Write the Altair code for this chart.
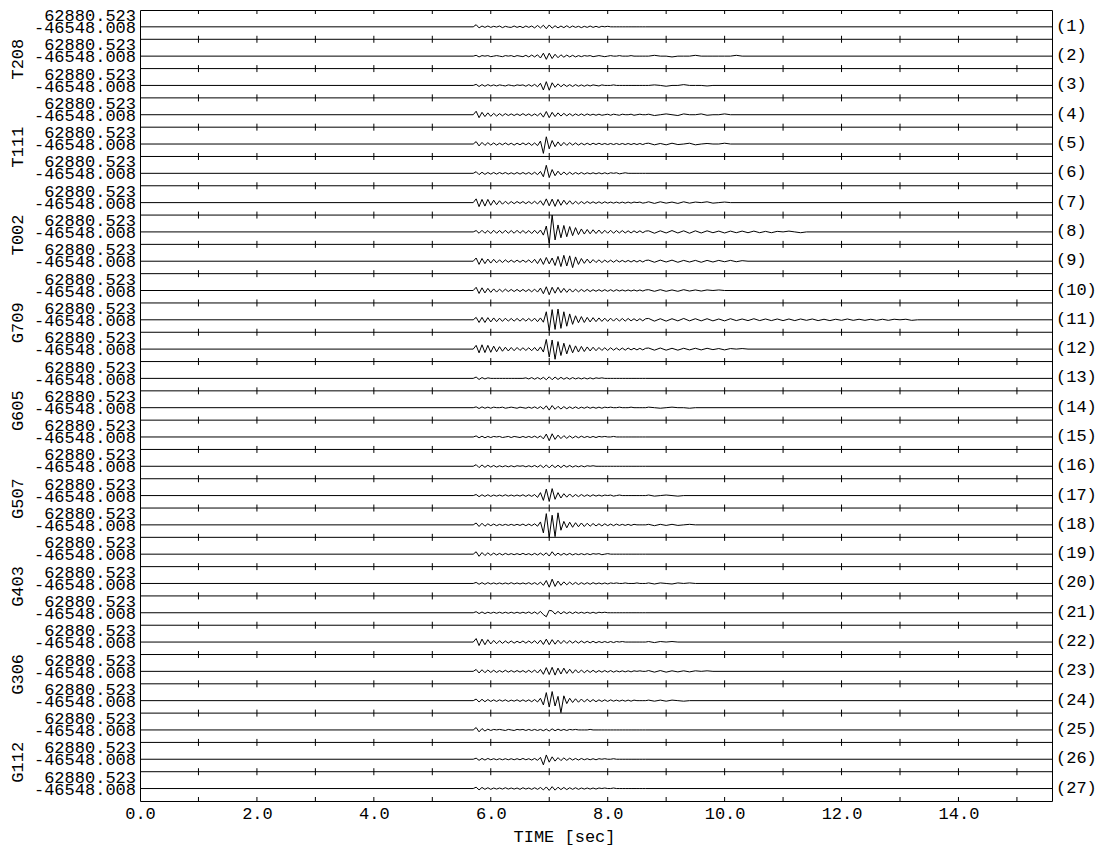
import altair as alt
import pandas as pd

# ---------------------------------------------------------------------------
# Record layout
# ---------------------------------------------------------------------------
AMP_MAX = 62880.523      # common amplitude range shown for every trace (counts)
AMP_MIN = -46548.008
T_END = 15.6             # length of the record window (s)

T0, DT = 5.70, 0.05      # first sample time / sample interval of the main window
CODA_T0, CODA_DT = 8.70, 0.10

STATIONS = {2: "T208", 5: "T111", 8: "T002", 11: "G709", 14: "G605",
            17: "G507", 20: "G403", 23: "G306", 26: "G112"}

TICK_SECONDS = list(range(1, 16))
LABEL_SECONDS = [0, 2, 4, 6, 8, 10, 12, 14]

# ---------------------------------------------------------------------------
# Waveforms, in thousands of counts, one list per trace (top to bottom)
# ---------------------------------------------------------------------------
T1 = [0, 8, -4, 3, -2, 3, -2, 2, -1, 3, -3, 2, -1, -2, 3, -2, 2, -3, 3, -2, 3, -4, 5, -4, 6, -7, 7, -5, 4, -4,
      3, -3, 4, -3, 3, -2, 2, -3, 2, -2, 3, -2, 2, -2, 2, 0, 2, 0, 0, 0, 0, 0, 0, 0, 0, 0, 0, 0, 0, 0]
T2 = [0, 3, -3, 2, 0, 2, -2, 0, 2, 0, -2, 2, 0, 2, -2, 2, 0, -2, 3, -3, 4, -3, 5, -7, 11, -12, 11, -9, 7, -6,
      5, -4, 4, -3, 3, -3, 2, -2, 2, 0, 2, -2, 0, 2, 0, -2, 0, 2, 0, 0, 2, 0, 0, 0, 2, 0, 0, 0, 0, 0]
T3 = [0, 4, -4, 3, -3, 3, -2, 2, -2, 2, 0, -2, 2, 0, -2, 2, 0, 2, -3, 3, -3, 4, -5, 8, -17, 14, -18, 10, -7, 6,
      -5, 4, -4, 3, -4, 3, -3, 2, -3, 2, -2, 2, 0, -2, 2, 0, 0, 0, 2, 0, 0, 0, 0, 0, 0, 0, 0, 0, 0, 0]
T4 = [0, 13, -11, 9, -7, 7, -6, 5, -5, 4, -4, 4, -3, 3, -3, 3, -3, 4, -3, 3, -4, 3, -4, 6, -9, 12, -11, 9, -7, 7,
      -5, 5, -4, 4, -4, 3, -3, 3, -3, 3, -2, 2, -2, 2, -2, 0, 2, -2, 2, 0, -2, 2, 0, 0, 2, -2, 0, 2, 0, 0]
T5 = [0, 9, -7, 6, -5, 5, -4, 4, -4, 3, -3, 4, -3, 3, -4, 3, -3, 4, -3, 4, -5, 4, -6, 11, -35, 27, -18, 13, -10, 8,
      -7, 6, -5, 5, -4, 4, -4, 3, -3, 3, -3, 3, -2, 3, -2, 2, -2, 2, -2, 2, -2, 2, -2, 2, -2, 2, -2, 2, -2, 2]
T6 = [0, 6, -5, 4, -4, 3, -3, 3, -3, 3, -2, 3, -3, 2, -3, 3, -3, 3, -3, 3, -4, 4, -5, 7, -13, 30, -16, 14, -9, 8,
      -6, 5, -5, 4, -4, 3, -3, 3, -3, 2, -2, 2, -2, 2, -2, 2, -2, 2, 0, 2, -2, 0, 2, 0, 0, 0, 0, 0, 0, 0]
T7 = [0, 14, -15, 12, -13, 12, -10, 9, -8, 7, -6, 5, -5, 4, -4, 4, -3, 4, -4, 4, -4, 5, -5, 7, -10, 14, -12, 13, -14, 12,
      -10, 9, -7, 7, -6, 5, -5, 4, -4, 4, -3, 3, -3, 3, -3, 3, -2, 2, -2, 2, -2, 2, -2, 2, -2, 2, 0, 2, -2, 0]
T8 = [0, 5, -5, 6, -5, 5, -6, 6, -5, 5, -5, 6, -5, 5, -5, 6, -5, 5, -5, 5, -6, 6, -6, 7, -12, 22, -42, 62.880523, -30, 26,
      -22, 24, -18, 20, -14, 16, -10, 11, -8, 9, -7, 8, -6, 7, -6, 6, -5, 6, -5, 5, -4, 5, -4, 4, -4, 4, -3, 4, -3, 3]
T9 = [0, 12, -12, 10, -9, 8, -7, 7, -6, 5, -5, 5, -4, 4, -4, 4, -4, 4, -4, 5, -6, 7, -9, 10, -12, 14, -10, 12, -16, 18,
      -20, 22, -18, 20, -24, 16, -12, 10, -8, 8, -7, 6, -5, 5, -5, 4, -4, 4, -4, 4, -3, 3, -3, 3, -3, 3, -3, 3, -3, 3]
T10 = [0, 12, -11, 10, -9, 8, -7, 6, -6, 5, -5, 5, -4, 4, -4, 4, -4, 4, -4, 4, -5, 5, -6, 9, -12, 14, -16, 12, -10, 12,
       -8, 8, -7, 6, -6, 5, -5, 4, -4, 4, -4, 3, -3, 3, -3, 3, -3, 3, -3, 3, -2, 2, -2, 2, -2, 2, -2, 2, -2, 2]
T11 = [0, 9, -10, 9, -10, 8, -8, 7, -7, 6, -6, 6, -5, 5, -5, 5, -5, 5, -5, 5, -5, 6, -7, 7, -9, 30, -40, 38, -36, 40,
       -32, 30, -24, 22, -17, 15, -11, 12, -10, 9, -8, 8, -7, 7, -6, 6, -6, 6, -5, 6, -5, 5, -5, 5, -4, 4, -4, 4, -4, 4]
T12 = [0, 14, -14, 16, -13, 14, -12, 11, -10, 9, -8, 7, -7, 6, -6, 6, -5, 5, -5, 5, -6, 6, -7, 8, -11, 36, -30, 34, -38, 28,
       -24, 22, -18, 16, -14, 12, -11, 10, -9, 8, -7, 7, -6, 6, -5, 5, -5, 5, -4, 4, -4, 4, -4, 4, -3, 3, -3, 3, -3, 3]
T13 = [0, 5, -4, 3, -2, 2, 0, 0, 0, 0, 0, 0, 0, 0, 0, 0, 0, 0, 2, -2, 3, -3, 3, -3, 4, -5, 6, -5, 5, -4,
       4, -3, 3, -3, 3, -2, 2, -2, 2, -2, 2, -2, 2, 0, 2, 0, 0, 0, 0, 0, 0, 0, 0, 0, 0, 0, 0, 0, 0, 0]
T14 = [0, 3, -3, 3, -2, 2, -2, 2, 0, 0, 2, -2, 0, 2, 0, -2, 2, 0, -2, 2, -2, 3, -3, 4, -5, 7, -9, 8, -6, 5,
       -5, 4, -4, 3, -3, 3, -3, 2, -2, 3, -2, 2, -2, 2, -2, 2, 0, 2, 0, 0, 2, 0, 0, 0, 2, 0, 0, 0, 0, 0]
T15 = [0, 4, -3, 3, -3, 2, -2, 2, 0, 2, -2, 0, 2, -2, 2, 0, -2, 2, -2, 2, -2, 3, -3, 4, -7, 11, -14, 12, -9, 7,
       -6, 5, -5, 4, -4, 3, -3, 3, -2, 2, -2, 2, -2, 2, 0, 2, 0, 0, 2, 0, 0, 0, 0, 0, 0, 0, 0, 0, 0, 0]
T16 = [0, 6, -5, 5, -4, 4, -3, 3, -3, 2, -2, 2, -2, 2, -2, 2, 0, 2, -2, 2, -2, 3, -3, 4, -5, 5, -6, 5, -5, 4,
       -5, 4, -3, 3, -3, 2, -2, 2, -2, 2, 0, 2, 0, 0, 0, 0, 0, 0, 0, 0, 0, 0, 0, 0, 0, 0, 0, 0, 0, 0]
T17 = [0, 4, -4, 3, -3, 3, -3, 2, -2, 2, -2, 3, -2, 2, -2, 2, -2, 3, -3, 3, -3, 4, -7, 11, -18, 24, -22, 26, -14, 11,
       -9, 7, -6, 6, -5, 4, -4, 4, -3, 3, -3, 3, -2, 2, -2, 2, 0, 2, -2, 0, 2, 0, 0, 0, 0, 0, 0, 0, 0, 0]
T18 = [0, 7, -6, 6, -5, 4, -3, 3, -3, 2, -2, 2, -2, 2, -2, 2, -2, 3, -3, 3, -3, 4, -5, 11, -30, 42, -46.548008, 36, -44, 45,
       -20, 13, -11, 10, -9, 8, -7, 7, -6, 6, -5, 5, -4, 4, -4, 4, -3, 3, -3, 3, -2, 2, -2, 2, -2, 2, 0, 0, 0, 0]
T19 = [0, 9, -8, 6, -5, 5, -4, 4, -3, 3, -3, 3, -2, 2, -2, 2, -2, 3, -2, 2, -3, 3, -3, 4, -4, 5, -7, 9, -5, 4,
       -4, 3, -3, 3, -3, 2, -2, 2, -2, 2, -2, 2, 0, 2, -2, 0, 2, 0, 0, 0, 0, 0, 0, 0, 0, 0, 0, 0, 0, 0]
T20 = [0, 4, -3, 3, -3, 3, -2, 2, -2, 2, -2, 2, -2, 3, -2, 2, -2, 2, -2, 3, -3, 3, -4, 5, -7, 11, -14, 16, -11, 9,
       -7, 6, -5, 5, -4, 4, -4, 3, -3, 3, -3, 3, -2, 2, -2, 2, -2, 2, 0, 2, 0, 0, 2, 0, 0, 0, 2, 0, 0, 0]
T21 = [0, 4, -3, 3, -3, 2, -2, 2, -2, 2, -2, 2, -2, 2, -2, 2, -2, 2, -2, 3, -3, 3, -4, 5, -7, -15, 9, 7, -5, 5,
       -4, 4, -3, 3, -3, 3, -2, 2, -2, 2, -2, 2, -2, 2, 0, 2, 0, 0, 0, 0, 0, 0, 0, 0, 0, 0, 0, 0, 0, 0]
T22 = [0, 13, -13, 11, -10, 9, -7, 6, -6, 5, -5, 4, -4, 4, -4, 3, -3, 4, -4, 4, -4, 5, -6, 7, -9, 11, -10, 9, -8, 7,
       -6, 6, -5, 5, -4, 4, -4, 4, -3, 3, -3, 3, -3, 2, -2, 2, -2, 2, -2, 2, 0, 2, 0, 0, 0, 0, 0, 0, 0, 0]
T23 = [0, 7, -6, 6, -5, 5, -4, 4, -4, 3, -3, 4, -3, 3, -3, 3, -3, 3, -4, 4, -4, 5, -6, 7, -11, 14, -12, 15, -14, 12,
       -10, 12, -8, 8, -7, 6, -6, 5, -5, 4, -4, 4, -4, 3, -3, 3, -3, 3, -3, 2, -2, 2, -2, 2, -2, 2, 0, 2, 0, 0]
T24 = [0, 6, -5, 5, -4, 4, -3, 3, -3, 3, -2, 3, -3, 2, -2, 3, -3, 3, -3, 3, -4, 4, -5, 9, -16, 30, -24, 34, -20, 16,
       -45, 18, -11, 9, -7, 7, -6, 6, -5, 5, -4, 4, -4, 3, -3, 3, -3, 3, -2, 2, -2, 2, -2, 2, -2, 2, 0, 0, 0, 0]
T25 = [0, 9, -7, 5, -4, 3, -2, 2, 0, 2, 0, -2, 2, 0, -2, 2, 0, 2, -2, 2, -2, 2, -2, 2, -3, 3, -4, 4, -3, 3,
       -2, 2, -2, 2, 0, 2, 0, 0, 0, 0, 2, 0, 0, 0, 0, 0, 0, 0, 0, 0, 0, 0, 0, 0, 0, 0, 0, 0, 0, 0]
T26 = [0, 4, -4, 3, -3, 3, -2, 2, -2, 2, -2, 2, -2, 2, -2, 2, -2, 3, -2, 2, -3, 3, -4, 7, -21, 16, -11, 9, -7, 6,
       -5, 5, -4, 4, -3, 3, -3, 3, -2, 2, -2, 2, -2, 2, 0, 2, 0, 0, 2, 0, 0, 0, 0, 0, 0, 0, 0, 0, 0, 0]
T27 = [0, 5, -5, 4, -3, 3, -3, 2, -2, 2, -2, 3, -2, 2, -2, 2, -3, 3, -2, 2, -3, 3, -3, 4, -5, 6, -7, 7, -6, 5,
       -4, 4, -4, 3, -3, 3, -3, 2, -2, 2, -2, 2, -2, 2, 0, 2, 0, 0, 2, 0, 0, 0, 0, 0, 0, 0, 0, 0, 0, 0]

TRACES = [T1, T2, T3, T4, T5, T6, T7, T8, T9, T10, T11, T12, T13, T14, T15, T16, T17, T18,
          T19, T20, T21, T22, T23, T24, T25, T26, T27]

# late coda (thousands of counts, every 0.1 s from 8.7 s)
CODA = {
    2: [0, 3, 0, 0, -3, 0, 0, 0, 3, 0, 0, 0, 0, 0, 0, 3, 0],
    3: [0, 2, 0, -3, 0, 0, 3, 0, 0, 0, -2, 0],
    4: [2, -3, 0, 3, 0, -3, 3, 0, 0, 3, -2, 0, 0, 3, 0],
    5: [3, -3, 2, -3, 3, -2, 0, 3, -3, 0, 2, 0, 0, 3, 0],
    7: [3, -3, 3, -2, 2, -3, 3, -2, 2, 0, 3, -2, 0, 2, 0],
    8: [4, -5, 4, -4, 5, -4, 4, -5, 4, -4, 4, -3, 3, -4, 3, -3, 3, -3, 3, -3, 2, -3, 2, 0, 3, 0, -3, 0],
    9: [4, -4, 4, -3, 4, -4, 3, -3, 3, -4, 3, -3, 3, -2, 3, -2, 2, 0],
    10: [3, -3, 3, -3, 2, -3, 3, -2, 2, -2, 2, 0, 2, 0],
    11: [5, -5, 4, -5, 4, -4, 5, -4, 4, -4, 4, -4, 3, -4, 4, -3, 3, -3, 4, -3, 3, -3, 3, -3, 3, -3, 3, -2,
         3, -3, 2, -3, 2, -2, 3, -2, 2, -2, 2, -2, 2, -2, 2, 0, 2, -2, 0],
    12: [4, -4, 4, -4, 3, -4, 3, -3, 3, -3, 3, -2, 2, -3, 2, 0, 2, 0],
    14: [2, 0, -2, 0, 2, 0, 0, -2, 0],
    17: [2, -2, 0, 2, 0, -2, 0],
    18: [2, -3, 2, -2, 2, -2, 0, 2, 0],
    20: [2, -2, 2, 0, -2, 2, 0, 2, 0],
    22: [2, -2, 2, 0, 2, 0],
    23: [3, -3, 3, -3, 2, -2, 2, -2, 2, 0, 2, 0],
    24: [2, -2, 2, -2, 2, 0, -2, 0],
}

# ---------------------------------------------------------------------------
# Geometry helpers
# ---------------------------------------------------------------------------
N = len(TRACES)
R = AMP_MAX - AMP_MIN            # counts spanned by one trace panel
WIDTH, HEIGHT = 912, 791
PX = R / (HEIGHT / N)            # counts per screen pixel, vertically
FONT = "Liberation Mono"
FS = 17


def zero_of(k):
    return (N - k) * R - AMP_MIN


def top_of(k):
    return (N - k + 1) * R


rows = []
for k, vals in enumerate(TRACES, start=1):
    base = zero_of(k)
    pts = [(0.0, 0.0)]
    pts += [(round(T0 + DT * i, 3), v * 1000) for i, v in enumerate(vals)]
    pts += [(round(CODA_T0 + CODA_DT * i, 3), v * 1000) for i, v in enumerate(CODA.get(k, []))]
    pts.append((T_END, 0.0))
    for j, (t, a) in enumerate(pts):
        rows.append({"trace": k, "order": j, "t": t, "y": base + a})
traces = pd.DataFrame(rows)

separators = pd.DataFrame({"y": [b * R for b in range(1, N)]})

tick_rows = []
for b in range(N + 1):
    yb = b * R
    if b == 0:
        lo, hi = yb, yb + 4 * PX
    elif b == N:
        lo, hi = yb - 4 * PX, yb
    else:
        lo, hi = yb - 3.5 * PX, yb + 3.5 * PX
    for s in TICK_SECONDS:
        tick_rows.append({"t": s, "y1": lo, "y2": hi})
ticks = pd.DataFrame(tick_rows)

panels = pd.DataFrame({
    "k": list(range(1, N + 1)),
    "top": [top_of(k) for k in range(1, N + 1)],
    "zero": [zero_of(k) for k in range(1, N + 1)],
    "num": [f"({k})" for k in range(1, N + 1)],
    "maxlab": [f"{AMP_MAX:.3f}"] * N,
    "minlab": [f"{AMP_MIN:.3f}"] * N,
})
stations = pd.DataFrame({
    "name": list(STATIONS.values()),
    "zero": [zero_of(k) for k in STATIONS],
})

xscale = alt.Scale(domain=[0, T_END], nice=False, zero=False)
yscale = alt.Scale(domain=[0, N * R], nice=False, zero=False)

xaxis = alt.Axis(values=LABEL_SECONDS, format=".1f", ticks=False, tickSize=0, domain=False,
                 grid=False, labelFont=FONT, labelFontSize=FS, labelColor="black",
                 labelPadding=12, labelBaseline="middle", labelFlush=False, labelOverlap=False,
                 title="TIME [sec]", titleFont=FONT, titleFontSize=FS, titleFontWeight="normal",
                 titleColor="black", titleX=424, titleY=35, titleBaseline="middle",
                 titleAlign="center")

lines = alt.Chart(traces).mark_line(color="black", strokeWidth=1).encode(
    x=alt.X("t:Q", scale=xscale, axis=xaxis),
    y=alt.Y("y:Q", scale=yscale, axis=None),
    detail="trace:N",
    order="order:Q",
)

seps = alt.Chart(separators).mark_rule(color="black", strokeWidth=1).encode(
    y=alt.Y("y:Q", scale=yscale, axis=None),
)

tickmarks = alt.Chart(ticks).mark_rule(color="black", strokeWidth=1).encode(
    x=alt.X("t:Q", scale=xscale),
    y=alt.Y("y1:Q", scale=yscale, axis=None),
    y2="y2:Q",
)

maxlabels = alt.Chart(panels).mark_text(
    font=FONT, fontSize=FS, align="right", baseline="middle", dy=6, color="black"
).encode(x=alt.value(-4), y=alt.Y("top:Q", scale=yscale, axis=None), text="maxlab:N")

minlabels = alt.Chart(panels).mark_text(
    font=FONT, fontSize=FS, align="right", baseline="middle", dy=18, color="black"
).encode(x=alt.value(-4), y=alt.Y("top:Q", scale=yscale, axis=None), text="minlab:N")

numlabels = alt.Chart(panels).mark_text(
    font=FONT, fontSize=FS, align="left", baseline="middle", dy=-1, color="black"
).encode(x=alt.value(WIDTH + 4), y=alt.Y("zero:Q", scale=yscale, axis=None), text="num:N")

stationlabels = alt.Chart(stations).mark_text(
    font=FONT, fontSize=FS, align="center", baseline="middle", angle=270, dy=0, dx=-3,
    color="black"
).encode(x=alt.value(-122), y=alt.Y("zero:Q", scale=yscale, axis=None), text="name:N")

chart = alt.layer(
    seps, lines, tickmarks, maxlabels, minlabels, numlabels, stationlabels
).properties(
    width=WIDTH,
    height=HEIGHT,
    autosize=alt.AutoSizeParams(type="none"),
    padding={"left": 140, "top": 10, "right": 49, "bottom": 50},
    background="white",
).configure_view(stroke="black", strokeWidth=1)

chart.save("out.html", embed_options={"renderer": "svg", "actions": False})
